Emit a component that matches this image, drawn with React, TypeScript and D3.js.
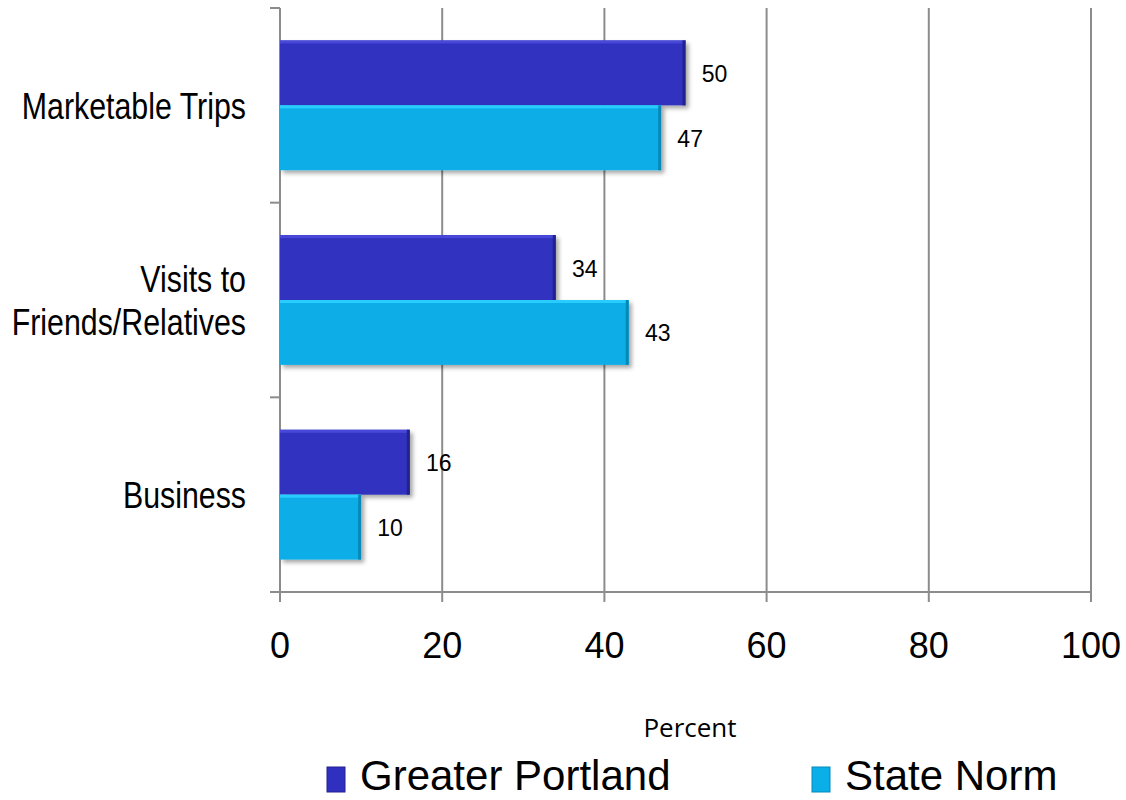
import React from "react";
import * as d3 from "d3";

const categories = ["Marketable Trips", "Visits to\nFriends/Relatives", "Business"];
const seriesNames = ["Greater Portland", "State Norm"];
const greaterPortland = [50, 34, 16];
const stateNorm = [47, 43, 10];
const xTicks = [0, 20, 40, 60, 80, 100];
const colors = ["#3030C0", "#0AAEE8"];
const lightColors = ["#4848D8", "#28CCFF"];
const darkColors = ["#22228E", "#0789B8"];

export default function App() {
  const W = 1126, H = 800;
  const x = d3.scaleLinear().domain([0, 100]).range([280, 1091]);
  const y = d3.scaleBand().domain(categories).range([8, 592]).paddingInner(0).paddingOuter(0);
  const inner = d3.scaleBand().domain(seriesNames).range([0, y.bandwidth()]).paddingOuter(0.5).paddingInner(0);
  const values = [greaterPortland, stateNorm];
  const font = "'Liberation Sans', Arial, sans-serif";

  return (
    <svg width={W} height={H} style={{ position: "absolute", left: 0, top: 0, background: "#fff" }}>
      <defs>
        <filter id="sh" x="-10%" y="-10%" width="130%" height="140%">
          <feDropShadow dx="3" dy="3" stdDeviation="2" floodColor="#000" floodOpacity="0.35" />
        </filter>
      </defs>
      {/* gridlines */}
      {xTicks.map((t) => (
        <line key={"g" + t} x1={x(t)} x2={x(t)} y1={8} y2={602} stroke="#8c8c8c" strokeWidth={2} />
      ))}
      {/* horizontal axis */}
      <line x1={270} x2={1091} y1={592} y2={592} stroke="#8c8c8c" strokeWidth={2} />
      {/* left ticks */}
      {[0, 1, 2, 3].map((i) => {
        const yy = 8 + i * y.bandwidth();
        return <line key={"lt" + i} x1={270} x2={280} y1={yy} y2={yy} stroke="#8c8c8c" strokeWidth={2} />;
      })}
      {/* bars */}
      {categories.map((c, ci) =>
        seriesNames.map((s, si) => {
          const v = values[si][ci];
          const y0 = (y(c) as number) + (inner(s) as number);
          const h = inner.bandwidth();
          const x0 = x(0);
          const w = x(v) - x0;
          return (
            <g key={c + s}>
              <rect x={x0} y={y0} width={w} height={h} fill={colors[si]} filter="url(#sh)" />
              <rect x={x0} y={y0} width={w} height={3} fill={lightColors[si]} />
              <rect x={x0 + w - 3} y={y0} width={3} height={h} fill={darkColors[si]} />
              <text x={x(v) + 29} y={y0 + h / 2 + 9} textAnchor="middle" fontFamily={font} fontSize={23} fill="#000">
                {v}
              </text>
            </g>
          );
        })
      )}
      {/* category labels */}
      {categories.map((c) => {
        const lines = c.split("\n");
        const cy = (y(c) as number) + y.bandwidth() / 2;
        return (
          <text key={"cl" + c} textAnchor="end" fontFamily={font} fontSize={37} fill="#000" transform={`translate(246,0) scale(0.82,1) translate(-246,0)`}>
            {lines.map((l, i) => (
              <tspan key={i} x={246} y={cy + 13.5 + (i - (lines.length - 1) / 2) * 43}>
                {l}
              </tspan>
            ))}
          </text>
        );
      })}
      {/* x tick labels */}
      {xTicks.map((t) => (
        <text key={"xt" + t} x={x(t)} y={658} textAnchor="middle" fontFamily={font} fontSize={36} fill="#000">
          {t}
        </text>
      ))}
      <text x={690} y={737} textAnchor="middle" fontFamily="'Open Sans', Lato, sans-serif" fontSize={26} fill="#000">
        Percent
      </text>
      {/* legend */}
      {seriesNames.map((s, i) => {
        const lx = [327, 812][i];
        return (
          <g key={"lg" + s}>
            <rect x={lx} y={767} width={18} height={25} fill={colors[i]} stroke={darkColors[i]} strokeWidth={1} />
            <text x={lx + 33} y={790} fontFamily={font} fontSize={42} fill="#000">
              {s}
            </text>
          </g>
        );
      })}
    </svg>
  );
}
